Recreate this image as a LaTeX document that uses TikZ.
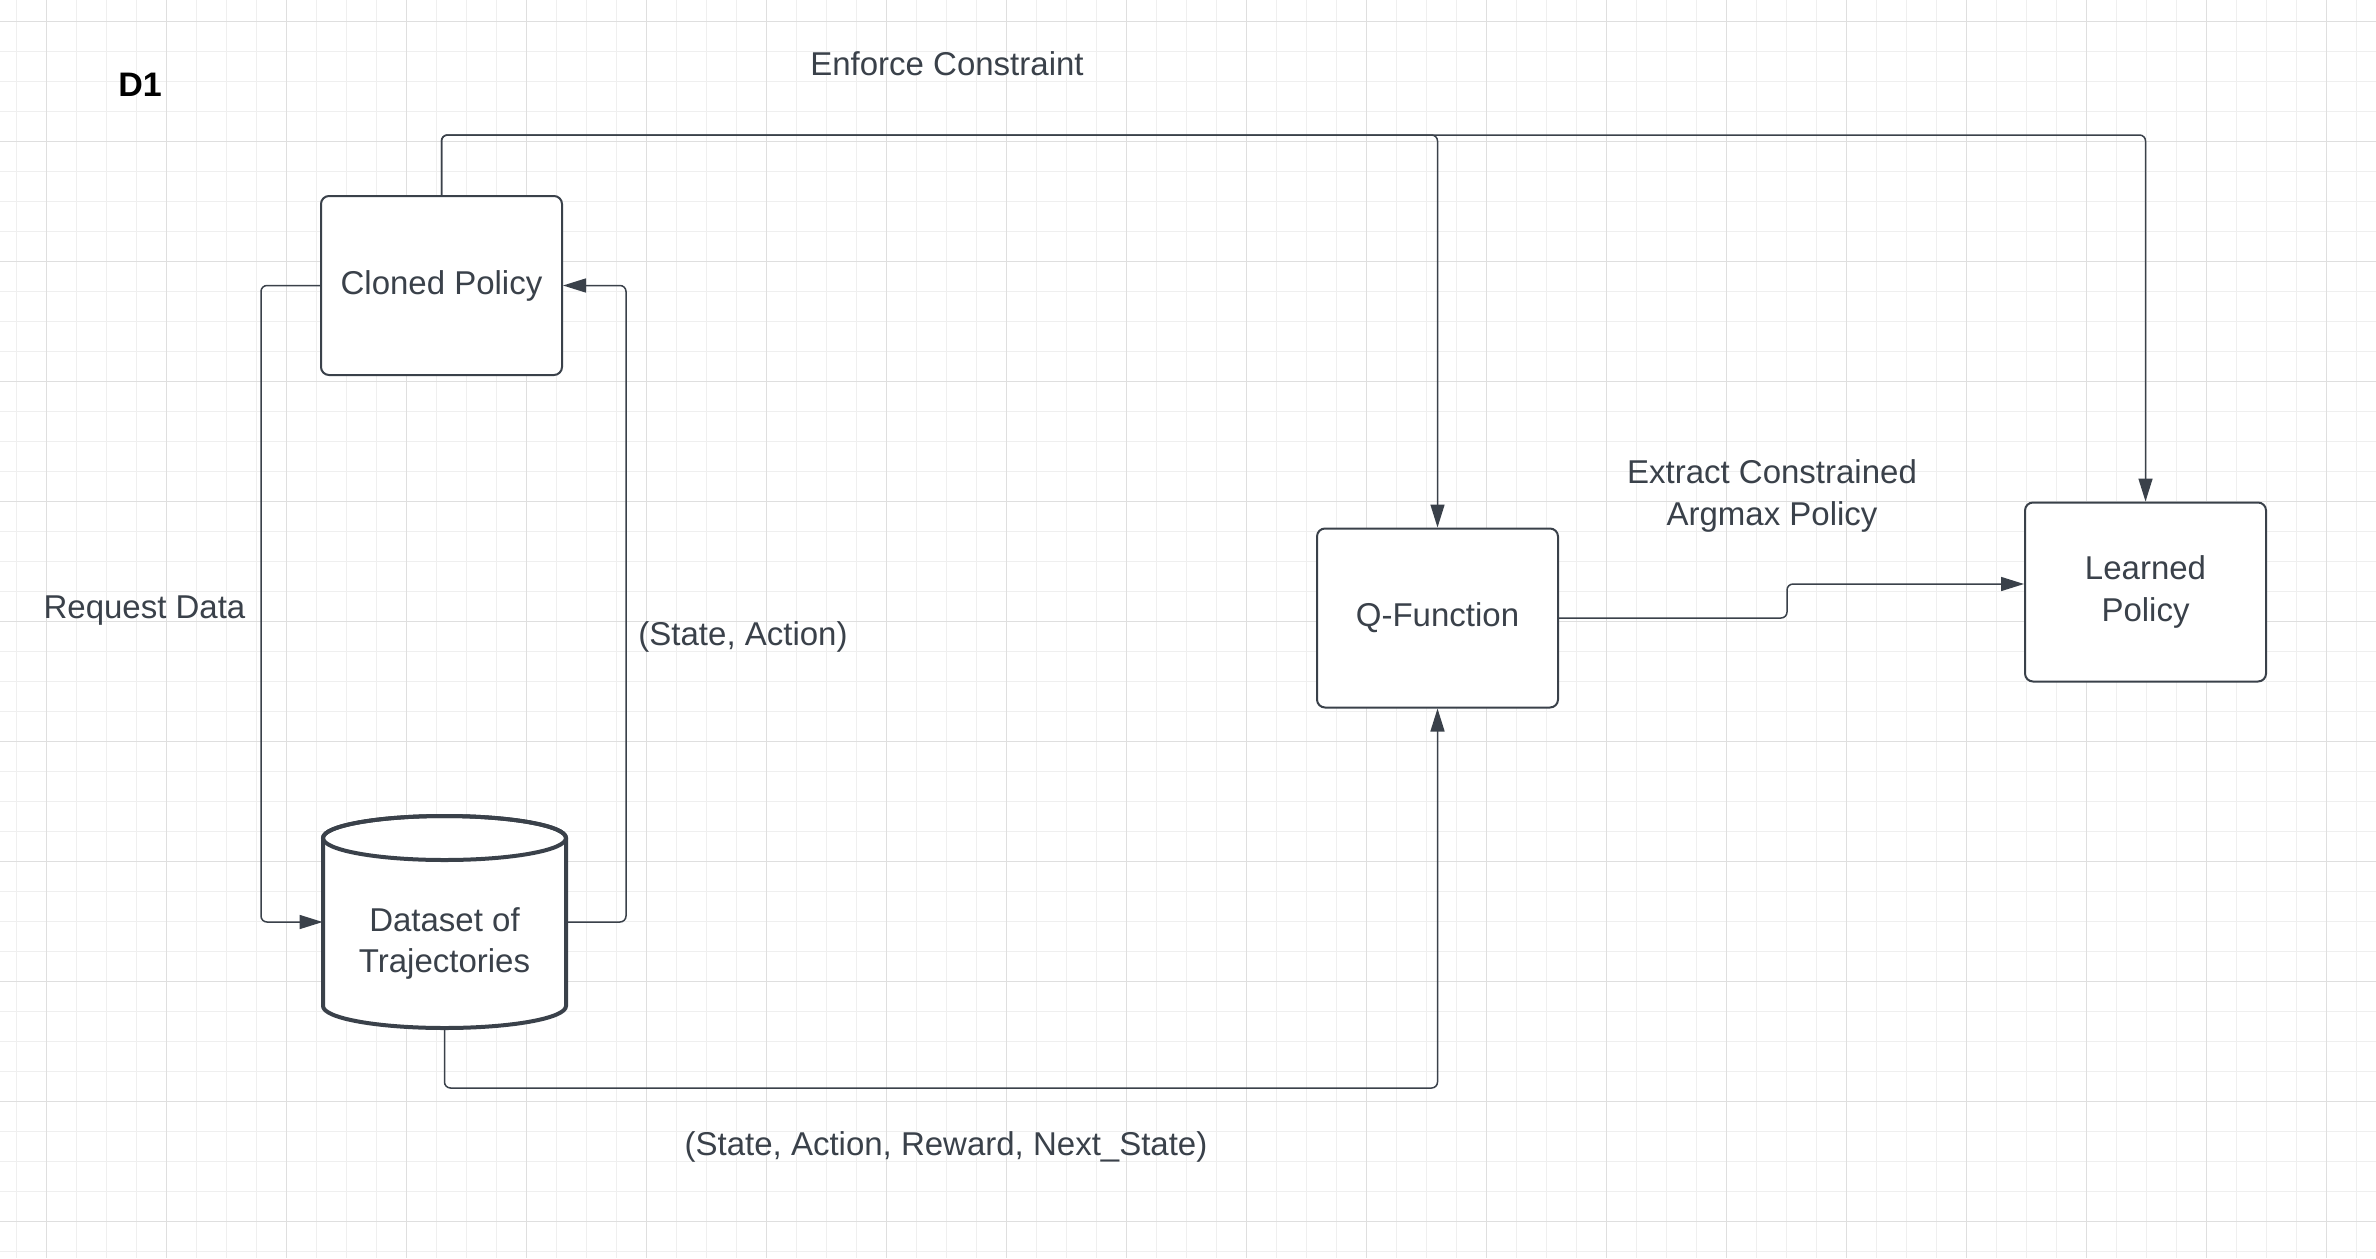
\documentclass[tikz,border=0pt]{standalone}
\usepackage{fontspec}
\setmainfont{Liberation Sans}
\usetikzlibrary{arrows.meta}
\definecolor{ink}{HTML}{3A414A}
\definecolor{gminor}{HTML}{EFEFEF}
\definecolor{gmajor}{HTML}{DFDFDF}
\begin{document}
\begin{tikzpicture}[x=0.5pt,y=-0.5pt,
  lbl/.style={font=\fontsize{16.5}{21}\selectfont, text=ink, inner sep=0pt},
  box/.style={draw=ink, line width=1pt, rounded corners=4pt, fill=white,
    minimum width=120.5pt, minimum height=89.5pt, inner sep=0pt, align=center,
    font=\fontsize{16.5}{21}\selectfont, text=ink},
  conn/.style={draw=ink, line width=0.75pt, rounded corners=3pt},
  arr/.style={conn, -{Triangle[length=11.5pt,width=7pt]}},
  gridminor/.style={draw=gminor, line width=0.5pt},
  gridmajor/.style={draw=gmajor, line width=0.55pt}
]
\useasboundingbox (0,0) rectangle (2376,1258);
\fill[white] (0,0) rectangle (2376,1258);
% grid
\foreach \k in {0,...,78} \draw[gridminor] ({16.8+30*\k},0) -- ({16.8+30*\k},1258);
\foreach \k in {0,...,41} \draw[gridminor] (0,{21.7+30*\k}) -- (2376,{21.7+30*\k});
\foreach \k in {0,...,19} \draw[gridmajor] ({46.9+120*\k},0) -- ({46.9+120*\k},1258);
\foreach \k in {0,...,10} \draw[gridmajor] (0,{21.7+120*\k}) -- (2376,{21.7+120*\k});

% nodes
\node[box] (cp) at (441.5,285.5) {Cloned Policy};
\node[box] (qf) at (1437.5,618) {Q-Function};
\node[box] (lp) at (2145.5,592) {Learned\\Policy};
\node[minimum width=121.5pt, minimum height=106pt, inner sep=0pt] (ds) at (444.5,922) {};
\draw[ink, line width=2pt, fill=white] (323,838) -- (323,1006)
  arc[start angle=180, end angle=360, x radius=60.75pt, y radius=11pt]
  -- (566,838)
  arc[start angle=0, end angle=180, x radius=60.75pt, y radius=11pt] -- cycle;
\draw[ink, line width=2pt] (444.5,838) ellipse[x radius=60.75pt, y radius=11pt];
\node[lbl, align=center, font=\fontsize{16.5}{20.5}\selectfont] (dst) at (444.5,943.5) {Dataset of\\Trajectories};

% coordinates for connector routes
\coordinate (topy) at (0,135);
\coordinate (lx) at (261,0);
\coordinate (rx) at (626,0);
\coordinate (by) at (0,1088);
\coordinate (jx) at (1787,584);

% connectors
\draw[arr] (cp.north) -- (cp.north |- topy) -- (qf.north |- topy) -- (qf.north);
\draw[arr] (cp.north) -- (cp.north |- topy) -- (lp.north |- topy) -- (lp.north);
\draw[arr] (cp.west) -- (lx |- cp.west) -- (lx |- ds.west) -- (ds.west);
\draw[arr] (ds.east) -- (rx |- ds.east) -- (rx |- cp.east) -- (cp.east);
\draw[arr] (ds.south) -- (ds.south |- by) -- (qf.south |- by) -- (qf.south);
\draw[arr] (qf.east) -- (jx |- qf.east) -- (jx) -- (lp.west |- jx);

% labels
\node[inner sep=0pt, anchor=base, text=black, font=\fontsize{17}{20}\selectfont\bfseries] (d1) at (140,96) {D1};
\node[lbl, anchor=base] (ec) at (947,75) {Enforce Constraint};
\node[lbl, anchor=base] (rd) at (144.5,618) {Request Data};
\node[lbl, anchor=base] (sa) at (743,645) {(State, Action)};
\node[lbl, anchor=base] (sarn) at (946,1155) {(State, Action, Reward, Next\_State)};
\node[lbl, align=center] (ex) at (1772,495.5) {Extract Constrained\\Argmax Policy};
\end{tikzpicture}
\end{document}
